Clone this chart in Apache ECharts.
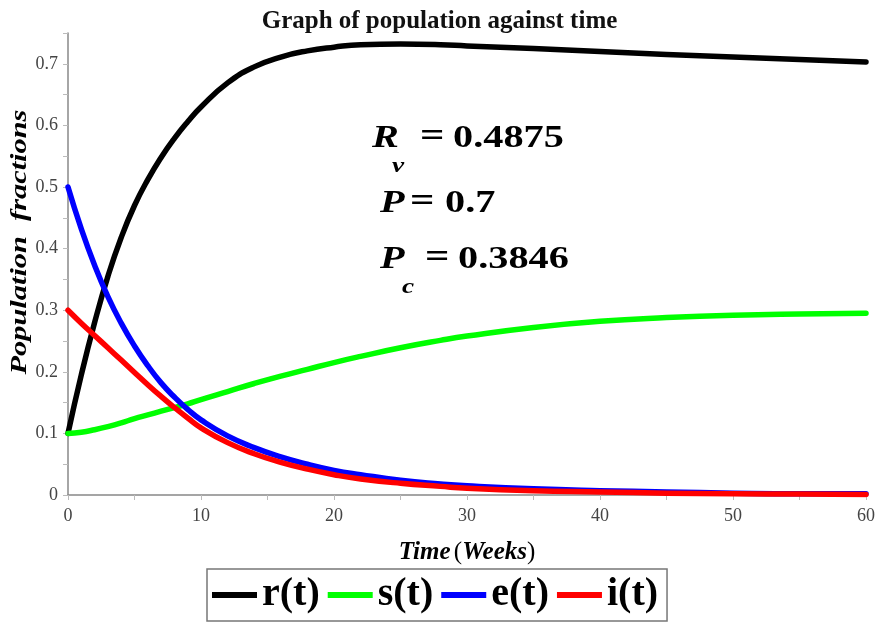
<!DOCTYPE html>
<html>
<head>
<meta charset="utf-8">
<script src="https://cdn.jsdelivr.net/npm/echarts@6/dist/echarts.min.js"></script>
<style>
  html, body { margin: 0; padding: 0; background: #fff; }
  #chart { width: 879px; height: 626px; }
</style>
</head>
<body>
<div id="chart"></div>
<script>
// Time points (weeks) shared by all four compartments
const timeWeeks = [0, 1, 2, 3, 4, 5, 6, 7, 8, 9, 10, 12, 14, 16, 18, 20, 22, 25, 28, 30, 35, 40, 45, 50, 55, 60];

// Population fractions for each compartment
const rValues = [0.100, 0.195, 0.280, 0.355, 0.418, 0.470, 0.512, 0.548, 0.579, 0.606, 0.630, 0.669, 0.695, 0.711, 0.721, 0.727, 0.731, 0.732, 0.731, 0.729, 0.725, 0.720, 0.715, 0.711, 0.707, 0.703];
const sValues = [0.100, 0.102, 0.106, 0.111, 0.117, 0.124, 0.130, 0.136, 0.142, 0.148, 0.155, 0.168, 0.181, 0.193, 0.204, 0.215, 0.225, 0.239, 0.251, 0.258, 0.272, 0.282, 0.288, 0.292, 0.294, 0.295];
const eValues = [0.500, 0.432, 0.373, 0.322, 0.279, 0.242, 0.210, 0.182, 0.159, 0.139, 0.122, 0.096, 0.077, 0.062, 0.050, 0.040, 0.033, 0.024, 0.018, 0.015, 0.010, 0.007, 0.005, 0.003, 0.002, 0.002];
const iValues = [0.300, 0.279, 0.259, 0.239, 0.219, 0.199, 0.179, 0.160, 0.142, 0.125, 0.109, 0.085, 0.067, 0.053, 0.042, 0.033, 0.026, 0.019, 0.014, 0.011, 0.007, 0.005, 0.003, 0.002, 0.0015, 0.001];

const seriesNames = ['r(t)', 's(t)', 'e(t)', 'i(t)'];
const seriesColors = ['#000000', '#00ff00', '#0000ff', '#ff0000'];
const seriesValues = [rValues, sValues, eValues, iValues];

// Parameter annotations
const paramRv = '0.4875';
const paramP = '0.7';
const paramPc = '0.3846';

const SERIF = '"Liberation Serif", "Times New Roman", serif';

const pairs = vals => timeWeeks.map((t, k) => [t, vals[k]]);

const chart = echarts.init(document.getElementById('chart'), null, { renderer: 'canvas' });

const annoStyle = (text, x, y, size, italic) => ({
  type: 'text',
  x: x, y: y,
  scaleX: 1.3,
  style: {
    text: text,
    fontFamily: SERIF,
    fontSize: size,
    fontWeight: 'bold',
    fontStyle: italic ? 'italic' : 'normal',
    fill: '#000',
    align: 'left',
    verticalAlign: 'bottom'
  },
  z: 10
});

chart.setOption({
  animation: false,
  backgroundColor: '#ffffff',
  title: {
    text: 'Graph of population against time',
    left: 'center',
    top: 4,
    textStyle: { fontFamily: SERIF, fontSize: 25, fontWeight: 'bold', color: '#111' }
  },
  grid: { left: 68, right: 13, top: 33, bottom: 131 },
  legend: {
    left: 207,
    top: 569,
    icon: 'rect',
    itemWidth: 45,
    itemHeight: 6,
    itemGap: 8,
    padding: [3, 9, 3, 5],
    borderColor: '#777',
    borderWidth: 1.5,
    textStyle: { fontFamily: SERIF, fontSize: 40, fontWeight: 'bold', color: '#000', lineHeight: 46 },
    data: seriesNames
  },
  xAxis: {
    type: 'value',
    min: 0, max: 60, interval: 10,
    name: '{it|Time} {rm|(}{it|Weeks}{rm|)}',
    nameLocation: 'middle',
    nameGap: 45,
    nameTextStyle: {
      rich: {
        it: { fontFamily: SERIF, fontSize: 25, fontWeight: 'bold', fontStyle: 'italic', color: '#000' },
        rm: { fontFamily: SERIF, fontSize: 25, color: '#000' }
      }
    },
    axisLine: { show: true, lineStyle: { color: '#888', width: 1.5 } },
    axisTick: { show: true, length: 5, lineStyle: { color: '#bbb' } },
    minorTick: { show: true, splitNumber: 2, length: 5, lineStyle: { color: '#bbb' } },
    splitLine: { show: false },
    axisLabel: { fontFamily: SERIF, fontSize: 18, color: '#444', margin: 12 }
  },
  yAxis: {
    type: 'value',
    min: 0, max: 0.75, interval: 0.05,
    axisLine: { show: true, lineStyle: { color: '#888', width: 1.5 } },
    axisTick: { show: true, length: 5, lineStyle: { color: '#bbb' } },
    splitLine: { show: false },
    axisLabel: {
      fontFamily: SERIF, fontSize: 18, color: '#444', margin: 10,
      formatter: v => {
        const tenths = v * 10;
        if (Math.abs(tenths - Math.round(tenths)) > 1e-6) return '';
        return Math.round(tenths) === 0 ? '0' : (Math.round(tenths) / 10).toFixed(1);
      }
    }
  },
  graphic: [
    {
      type: 'text',
      x: 20, y: 242,
      rotation: Math.PI / 2,
      scaleX: 1.32,
      style: {
        text: 'Population  fractions',
        fontFamily: SERIF, fontSize: 23, fontWeight: 'bold', fontStyle: 'italic',
        fill: '#000', align: 'center', verticalAlign: 'middle'
      }
    },
    annoStyle('R', 372, 154, 31, true),
    annoStyle('v', 392, 177, 21, true),
    annoStyle('=', 420, 154, 33, false),
    annoStyle(paramRv, 453, 154, 31, false),
    annoStyle('P', 380, 219, 31, true),
    annoStyle('=', 410, 219, 33, false),
    annoStyle(paramP, 445, 219, 31, false),
    annoStyle('P', 380, 275, 31, true),
    annoStyle('c', 402, 298, 21, true),
    annoStyle('=', 425, 275, 33, false),
    annoStyle(paramPc, 458, 275, 31, false)
  ],
  series: seriesNames.map((name, k) => ({
    name: name,
    type: 'line',
    data: pairs(seriesValues[k]),
    smooth: 0.5,
    showSymbol: false,
    symbol: 'none',
    lineStyle: { color: seriesColors[k], width: 5.5, cap: 'round', join: 'round' },
    itemStyle: { color: seriesColors[k] },
    z: 2 + k
  }))
});
</script>
</body>
</html>
